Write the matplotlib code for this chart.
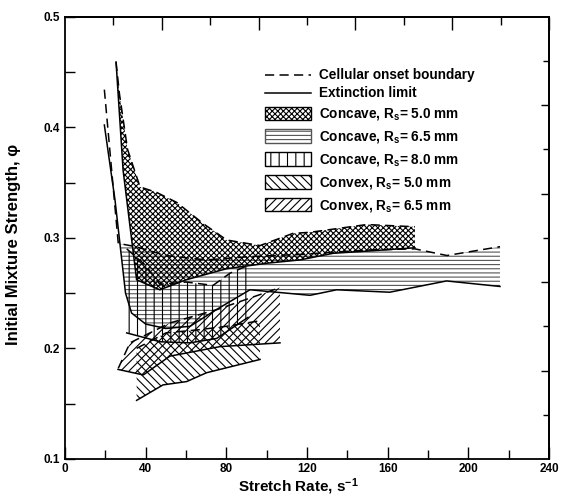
import numpy as np
import matplotlib
matplotlib.use("Agg")
import matplotlib.pyplot as plt
from matplotlib.lines import Line2D
from matplotlib.patches import Patch

plt.rcParams["font.family"] = ["Liberation Sans", "DejaVu Sans"]
plt.rcParams["font.weight"] = "bold"
plt.rcParams["mathtext.fontset"] = "custom"
plt.rcParams["mathtext.rm"] = "Liberation Sans:bold"
plt.rcParams["mathtext.it"] = "Liberation Sans:bold"
plt.rcParams["mathtext.bf"] = "Liberation Sans:bold"
plt.rcParams["mathtext.default"] = "rm"
plt.rcParams["hatch.linewidth"] = 0.8

# Concave, Rs = 5.0 mm
cc50_up_x = [25.3, 27, 31, 37.2, 45.5, 55.4, 68.4, 80.2, 96.7, 113, 121.5, 149.6, 173.5]
cc50_up_y = [0.459, 0.43, 0.38, 0.346, 0.341, 0.332, 0.313, 0.298, 0.293, 0.304, 0.305, 0.312, 0.310]
cc50_lo_x = [25.3, 28.8, 35.5, 47, 60, 80, 100, 116.5, 133, 150, 173.5]
cc50_lo_y = [0.459, 0.361, 0.262, 0.253, 0.262, 0.272, 0.277, 0.280, 0.286, 0.288, 0.291]

# Concave, Rs = 6.5 mm
cc65_up_x = [19.5, 26.4, 35, 50, 70, 91.7, 116.5, 133, 150, 173.5, 189.4, 215.7]
cc65_up_y = [0.434, 0.295, 0.292, 0.284, 0.280, 0.283, 0.285, 0.287, 0.289, 0.290, 0.284, 0.292]
cc65_lo_x = [19.5, 24.8, 30, 33, 40, 50, 62, 75, 91.7, 106.6, 121.5, 134.7, 161, 189.2, 215.7]
cc65_lo_y = [0.402, 0.334, 0.250, 0.232, 0.222, 0.218, 0.220, 0.235, 0.253, 0.2505, 0.248, 0.253, 0.2508, 0.261, 0.256]
cc65_fill_top = 0.295  # hatching only starts below the steep left limbs

# Concave, Rs = 8.0 mm
cc80_up_x = [30.6, 40, 47, 60, 73.4, 81.8, 90.7]
cc80_up_y = [0.290, 0.275, 0.258, 0.260, 0.257, 0.268, 0.275]
cc80_lo_x = [30.6, 47.1, 62, 75.2, 90.7]
cc80_lo_y = [0.214, 0.206, 0.205, 0.209, 0.228]

# Convex, Rs = 5.0 mm
cv50_up_x = [35.5, 50, 67, 80, 96.7]
cv50_up_y = [0.200, 0.214, 0.217, 0.220, 0.225]
cv50_lo_x = [35.5, 48.6, 60.3, 70.2, 96.7]
cv50_lo_y = [0.153, 0.167, 0.170, 0.178, 0.190]

# Convex, Rs = 6.5 mm
cv65_up_x = [26.4, 32.2, 52, 75.2, 106.6]
cv65_up_y = [0.182, 0.205, 0.223, 0.235, 0.255]
cv65_lo_x = [26.3, 38.8, 52, 63.6, 76.8, 106.6]
cv65_lo_y = [0.181, 0.176, 0.193, 0.197, 0.2016, 0.205]

H_CC50 = "xxxxxx"
H_CC65 = "----"
H_CC80 = "||"
H_CV50 = "\\\\\\\\"
H_CV65 = "////"


def cut_below(xs, ys, ymax):
    # keep the part of a boundary at or below ymax, adding the crossing point
    xs, ys = list(xs), list(ys)
    out_x, out_y = [], []
    for i in range(len(xs)):
        if ys[i] <= ymax:
            if i > 0 and ys[i - 1] > ymax and not out_x:
                t = (ys[i - 1] - ymax) / (ys[i - 1] - ys[i])
                out_x.append(xs[i - 1] + t * (xs[i] - xs[i - 1]))
                out_y.append(ymax)
            out_x.append(xs[i])
            out_y.append(ys[i])
    return out_x, out_y


def band(ax, xu, yu, xl, yl, hatch, color="black", fill_top=None):
    fxu, fyu, fxl, fyl = xu, yu, xl, yl
    if fill_top is not None:
        fxu, fyu = cut_below(xu, yu, fill_top)
        fxl, fyl = cut_below(xl, yl, fill_top)
    px = list(fxu) + list(fxl)[::-1]
    py = list(fyu) + list(fyl)[::-1]
    ax.fill(px, py, facecolor="none", edgecolor=color, hatch=hatch, linewidth=0)
    ax.plot(xu, yu, color="black", lw=1.1, dashes=(6, 3.5))
    ax.plot(xl, yl, color="black", lw=1.1)


fig = plt.figure(figsize=(5.62, 4.97), dpi=100)
ax = fig.add_axes([0.1157, 0.0765, 0.8612, 0.8900])

band(ax, cc65_up_x, cc65_up_y, cc65_lo_x, cc65_lo_y, H_CC65, "#555555", fill_top=cc65_fill_top)
band(ax, cc80_up_x, cc80_up_y, cc80_lo_x, cc80_lo_y, H_CC80)
band(ax, cv50_up_x, cv50_up_y, cv50_lo_x, cv50_lo_y, H_CV50)
band(ax, cv65_up_x, cv65_up_y, cv65_lo_x, cv65_lo_y, H_CV65)
band(ax, cc50_up_x, cc50_up_y, cc50_lo_x, cc50_lo_y, H_CC50)

ax.set_xlim(0, 240)
ax.set_ylim(0.1, 0.5)
ax.set_xticks(np.arange(0, 241, 40))
ax.set_xticks(np.arange(20, 240, 40), minor=True)
ax.set_yticks(np.arange(0.1, 0.51, 0.1))
ax.set_yticks(np.arange(0.15, 0.5, 0.1), minor=True)
ax.set_yticklabels(["0.1", "0.2", "0.3", "0.4", "0.5"])
ax.tick_params(axis="x", which="major", direction="in", length=9, width=1, labelsize=8.5, pad=3)
ax.tick_params(axis="x", which="minor", direction="in", length=6.5, width=1)
ax.tick_params(axis="y", which="both", direction="in", length=7.5, width=1, labelsize=8.5)
for s in ax.spines.values():
    s.set_linewidth(1.3)

top = ax.secondary_xaxis("top")
top.set_xticks(np.arange(48, 241, 48))
top.set_xticks(np.arange(24, 241, 48), minor=True)
top.tick_params(which="major", direction="in", length=9, width=1, labeltop=False)
top.tick_params(which="minor", direction="in", length=6, width=1)
top.spines["top"].set_linewidth(1.3)

right = ax.secondary_yaxis("right")
right.set_yticks(np.arange(0.18, 0.5, 0.08))
right.set_yticks(np.arange(0.14, 0.5, 0.08), minor=True)
right.tick_params(which="major", direction="in", length=6, width=1, labelright=False)
right.tick_params(which="minor", direction="in", length=4, width=1)
right.spines["right"].set_linewidth(1.3)

ax.set_xlabel("Stretch Rate, s$^{-1}$", fontsize=11, fontweight="bold")
ax.xaxis.set_label_coords(0.483, -0.040)
ax.set_ylabel("Initial Mixture Strength, φ", fontsize=12, fontweight="bold")
ax.yaxis.set_label_coords(-0.09, 0.485)

line_handles = [Line2D([], [], color="black", lw=1.1, dashes=(6, 3.5)),
                Line2D([], [], color="black", lw=1.1)]
leg1 = ax.legend(line_handles, ["Cellular onset boundary", "Extinction limit"],
                 loc="upper left", bbox_to_anchor=(0.413, 0.883), frameon=False,
                 fontsize=9.8, handlelength=3.4, handletextpad=0.6, labelspacing=0.3,
                 borderpad=0, borderaxespad=0)
ax.add_artist(leg1)

patch_handles = [Patch(facecolor="white", edgecolor="black", hatch=H_CC50),
                 Patch(facecolor="white", edgecolor="#555555", hatch=H_CC65),
                 Patch(facecolor="white", edgecolor="black", hatch=H_CC80),
                 Patch(facecolor="white", edgecolor="black", hatch=H_CV50),
                 Patch(facecolor="white", edgecolor="black", hatch=H_CV65)]
patch_labels = ["Concave, R$_s$= 5.0 mm", "Concave, R$_s$= 6.5 mm", "Concave, R$_s$= 8.0 mm",
                "Convex, R$_s$= 5.0 mm", "Convex, R$_s$= 6.5 mm"]
ax.legend(patch_handles, patch_labels, loc="upper left", bbox_to_anchor=(0.413, 0.797),
          frameon=False, fontsize=9.8, handlelength=3.4, handleheight=1.15,
          handletextpad=0.6, labelspacing=0.5, borderpad=0, borderaxespad=0)

fig.savefig("out.png", dpi=100)
